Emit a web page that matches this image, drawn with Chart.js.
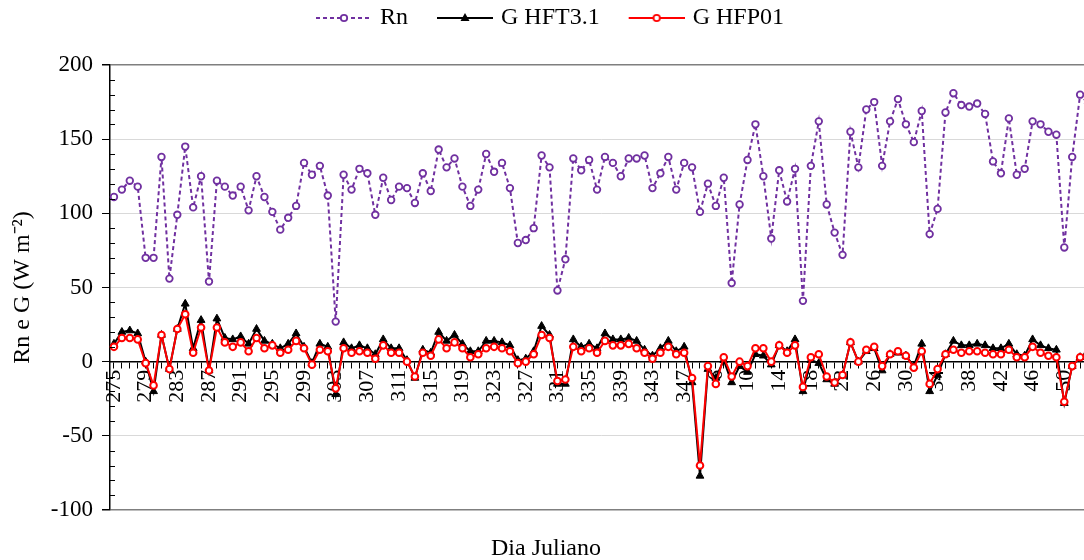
<!DOCTYPE html>
<html><head><meta charset="utf-8">
<script src="https://cdn.jsdelivr.net/npm/chart.js@4.4.1/dist/chart.umd.min.js"></script>
<style>
html,body{margin:0;padding:0;background:#fff;overflow:hidden;width:1084px;height:560px}
#wrap{width:1100px;height:560px}
</style>
</head><body><div id="wrap"><canvas id="c" width="1100" height="560"></canvas></div>
<script>
const dayLabels = [
 '275','276','277','278','279','280','281','282','283','284','285','286','287','288','289','290','291','292','293','294',
 '295','296','297','298','299','300','301','302','303','304','305','306','307','308','309','310','311','312','313','314',
 '315','316','317','318','319','320','321','322','323','324','325','326','327','328','329','330','331','332','333','334',
 '335','336','337','338','339','340','341','342','343','344','345','346','347',
 '3','4','5','6','7','8','9','10','11','12','13','14','15','16','17','18','19','20','21','22','23','24','25','26','27',
 '28','29','30','31','32','33','34','35','36','37','38','39','40','41','42','43','44','45','46','47','48','49','50',
 '51','52','53'];

const rnValues = [
 111,116,122,118,70,70,138,56,99,145,104,125,54,122,118,112,118,102,125,111,
 101,89,97,105,134,126,132,112,27,126,116,130,127,99,124,109,118,117,107,127,
 115,143,131,137,118,105,116,140,128,134,117,80,82,90,139,131,48,69,137,129,
 136,116,138,134,125,137,137,139,117,127,138,116,134,131,101,120,105,124,53,
 106,136,160,125,83,129,108,130,41,132,162,106,87,72,155,131,170,175,132,162,
 177,160,148,169,86,103,168,181,173,172,174,167,135,127,164,126,130,162,160,155,
 153,77,138,180,174];

const hft31Values = [
 12,20,21,19,0,-20,18,-5,22,39,9,28,-6,29,16,15,17,12,22,14,
 12,9,12,19,10,-1,12,10,-22,13,9,11,9,5,15,9,9,1,-11,8,
 6,20,14,18,12,7,7,14,14,13,11,1,2,7,24,18,-15,-15,15,10,
 12,9,19,15,15,16,14,8,4,9,14,7,10,-14,-77,-5,-11,1,-14,-3,-7,
 5,4,-2,11,7,15,-20,1,-1,-12,-15,-9,13,0,7,9,-6,5,6,4,
 -3,12,-20,-9,5,14,11,11,12,11,9,9,12,5,4,15,11,9,8,-28,
 -3,3,7];

const hfp01Values = [
 10,16,16,15,-1,-16,18,-5,22,32,6,23,-6,23,13,10,13,7,16,9,
 11,6,8,14,9,-2,8,7,-18,9,6,7,6,2,11,6,6,0,-10,6,
 4,15,9,13,9,3,5,9,10,9,7,-1,0,5,18,16,-13,-12,10,7,
 9,6,14,11,11,12,9,6,2,6,10,5,6,-11,-70,-3,-15,3,-10,0,-3,
 9,9,0,11,6,11,-17,3,5,-10,-14,-9,13,0,8,10,-3,5,7,4,
 -4,7,-15,-5,5,8,6,7,7,6,5,5,8,3,3,10,6,4,3,-27,
 -3,3,6];

const yTicks = [-100,-50,0,50,100,150,200];

const SERIF = '"Liberation Serif", "Times New Roman", serif';
const PURPLE = '#7030A0', RED = '#FF0000', BLACK = '#000000';

function swatch(color, dash, marker) {
  const c = document.createElement('canvas');
  c.width = 68; c.height = 14;
  const g = c.getContext('2d');
  g.strokeStyle = color; g.lineWidth = 2; g.setLineDash(dash);
  g.beginPath(); g.moveTo(12, 7); g.lineTo(68, 7); g.stroke();
  g.setLineDash([]);
  const cx = 40, cy = 7;
  if (marker === 'circle') {
    g.beginPath(); g.arc(cx, cy, 3.2, 0, Math.PI * 2);
    g.fillStyle = '#fff'; g.fill(); g.lineWidth = 1.8; g.stroke();
  } else {
    g.beginPath(); g.moveTo(cx, cy - 5); g.lineTo(cx + 4.5, cy + 3); g.lineTo(cx - 4.5, cy + 3); g.closePath();
    g.fillStyle = color; g.fill();
  }
  return c;
}

const legendSpacer = {
  id: 'legendSpacer',
  beforeInit(chart) {
    const orig = chart.legend.fit;
    chart.legend.fit = function () { orig.call(this); this.height += 25; };
  }
};

const minorTicks = {
  id: 'minorTicks',
  afterDraw(chart) {
    const ys = chart.scales.y, ctx = chart.ctx;
    const x0 = chart.chartArea.left;
    ctx.save(); ctx.strokeStyle = '#000'; ctx.lineWidth = 1;
    for (let v = ys.min; v <= ys.max; v += 10) {
      if (v % 50 === 0) continue;
      const y = Math.round(ys.getPixelForValue(v)) + 0.5;
      ctx.beginPath(); ctx.moveTo(x0, y); ctx.lineTo(x0 + 5, y); ctx.stroke();
    }
    ctx.restore();
  }
};

const noBox = { fontColor: '#000', lineWidth: 0, strokeStyle: 'rgba(0,0,0,0)', fillStyle: 'rgba(0,0,0,0)', hidden: false };

new Chart(document.getElementById('c'), {
  type: 'line',
  data: {
    labels: dayLabels,
    datasets: [
      { label: 'Rn', data: rnValues, order: 0, borderColor: PURPLE, borderWidth: 2, borderDash: [4, 3],
        pointStyle: 'circle', pointRadius: 3.3, pointBorderWidth: 1.8, pointBackgroundColor: '#fff', pointBorderColor: PURPLE, tension: 0 },
      { label: 'G HFT3.1', data: hft31Values, order: 2, borderColor: BLACK, borderWidth: 2,
        pointStyle: 'triangle', pointRadius: 4.5, pointBorderWidth: 1, pointBackgroundColor: BLACK, pointBorderColor: BLACK, tension: 0 },
      { label: 'G HFP01', data: hfp01Values, order: 1, borderColor: RED, borderWidth: 2,
        pointStyle: 'circle', pointRadius: 3.3, pointBorderWidth: 2, pointBackgroundColor: '#fff', pointBorderColor: RED, tension: 0 }
    ]
  },
  options: {
    responsive: false, animation: false, events: [],
    layout: { autoPadding: false, padding: { top: -15, left: 0, right: 8, bottom: -1 } },
    plugins: {
      tooltip: { enabled: false },
      legend: {
        position: 'top',
        labels: {
          usePointStyle: true, pointStyleWidth: 60, boxHeight: 14, padding: 21, color: '#000',
          font: { family: SERIF, size: 24 },
          generateLabels: () => [
            Object.assign({ text: 'Rn', pointStyle: swatch(PURPLE, [4, 3], 'circle'), datasetIndex: 0 }, noBox),
            Object.assign({ text: 'G HFT3.1', pointStyle: swatch(BLACK, [], 'triangle'), datasetIndex: 1 }, noBox),
            Object.assign({ text: 'G HFP01', pointStyle: swatch(RED, [], 'circle'), datasetIndex: 2 }, noBox)
          ]
        }
      },
      title: {
        display: true, position: 'bottom', text: 'Dia Juliano', color: '#000',
        font: { family: SERIF, size: 24, weight: 'normal', lineHeight: 1 },
        padding: { top: 27, bottom: 0 }
      }
    },
    scales: {
      x: {
        type: 'category', offset: true, position: { y: 0 },
        ticks: {
          autoSkip: false, minRotation: 90, maxRotation: 90, color: '#000', padding: 2,
          font: { family: SERIF, size: 22 },
          callback: function (v, i) { return i % 4 === 0 ? this.getLabelForValue(v) : ''; }
        },
        grid: { drawOnChartArea: false, drawTicks: true, tickLength: 6, tickColor: '#000', tickWidth: 1 },
        border: { color: '#000', width: 1.5 },
        afterFit(s) { s.paddingLeft = 0; s.paddingRight = 0; }
      },
      y: {
        min: yTicks[0], max: yTicks[yTicks.length - 1],
        afterBuildTicks(s) { s.ticks = yTicks.map(v => ({ value: v })); },
        ticks: { color: '#000', padding: 9, font: { family: SERIF, size: 23 } },
        grid: {
          color: c => (c.tick && (c.tick.value === 200 || c.tick.value === -100)) ? '#7f7f7f' : (c.tick && c.tick.value === 0 ? 'rgba(0,0,0,0)' : '#d9d9d9'),
          lineWidth: c => (c.tick && (c.tick.value === 200 || c.tick.value === -100)) ? 1.5 : 1,
          tickColor: '#000', tickLength: 8, drawTicks: true
        },
        border: { color: '#000', width: 1.5 },
        title: { display: true, text: 'Rn e G (W m⁻²)', color: '#000', font: { family: SERIF, size: 24 }, padding: { top: 8, bottom: 0 } },
        afterFit(s) { s.width = 110; }
      }
    }
  },
  plugins: [legendSpacer, minorTicks]
});
</script>
</body></html>
